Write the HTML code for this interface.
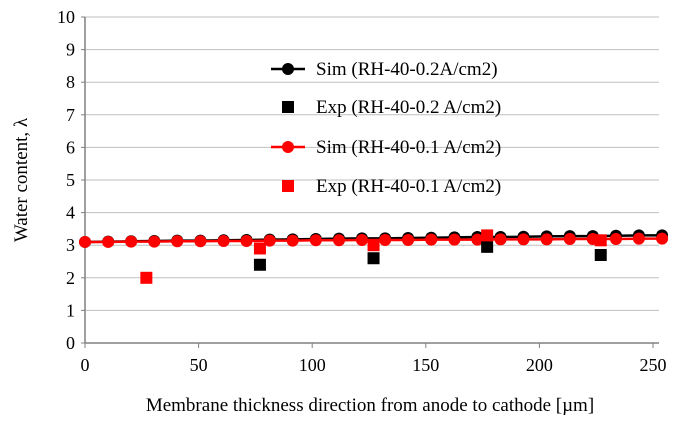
<!DOCTYPE html>
<html><head><meta charset="utf-8"><style>
body{margin:0;background:#fff;}
svg text{font-family:"Liberation Serif",serif;fill:#000;}
</style></head><body>
<svg id="chart" width="683" height="425" xmlns="http://www.w3.org/2000/svg"></svg>
<script>
const simX = [0,10.2,20.3,30.5,40.6,50.8,61,71.1,81.3,91.4,101.6,111.8,121.9,132.1,142.2,152.4,162.6,172.7,182.9,193,203.2,213.4,223.5,233.7,243.8,254];
const sim02 = [3.1,3.11,3.12,3.13,3.14,3.14,3.15,3.16,3.17,3.18,3.19,3.2,3.21,3.21,3.22,3.23,3.24,3.25,3.25,3.26,3.27,3.28,3.28,3.29,3.3,3.3];
const sim01 = [3.1,3.1,3.11,3.11,3.12,3.12,3.13,3.13,3.14,3.14,3.15,3.15,3.16,3.16,3.16,3.17,3.17,3.17,3.18,3.18,3.18,3.19,3.19,3.19,3.2,3.2];
const exp02X = [77,127,177,227];
const exp02 = [2.4,2.6,2.95,2.7];
const exp01X = [27,77,127,177,227];
const exp01 = [2.0,2.9,3.0,3.3,3.15];
const xTicks = [0,50,100,150,200,250];
const yTicks = [0,1,2,3,4,5,6,7,8,9,10];

const svg = document.getElementById('chart');
const NS = 'http://www.w3.org/2000/svg';
const X0=85, XS=2.272, Y0=343, YS=32.6, XMAX=659;
const sx = v => X0 + v*XS;
const sy = v => Y0 - v*YS;
function el(tag, attrs, parent){const e=document.createElementNS(NS,tag);for(const k in attrs)e.setAttribute(k,attrs[k]);(parent||svg).appendChild(e);return e;}

yTicks.forEach(t=>{
  if(t>0){const g=el('line',{x1:X0,x2:XMAX,y1:sy(t),y2:sy(t),stroke:'#bfbfbf','stroke-width':1});
  
  }
  const tk=el('line',{x1:X0-4,x2:X0,y1:sy(t),y2:sy(t),stroke:'#808080'});
  
  
  const tx=el('text',{x:X0-10,y:sy(t)+6,'text-anchor':'end','font-size':18});
  tx.textContent=t;
  
  
});
xTicks.forEach(t=>{
  const tk=el('line',{x1:sx(t),x2:sx(t),y1:Y0,y2:Y0+5,stroke:'#808080'});
  
  
  const tx=el('text',{x:sx(t),y:Y0+28,'text-anchor':'middle','font-size':18});
  tx.textContent=t;
  
  
});
const ya=el('line',{x1:X0,x2:X0,y1:sy(10),y2:Y0,stroke:'#808080','stroke-width':1.5});


const xa=el('line',{x1:X0,x2:XMAX,y1:Y0,y2:Y0,stroke:'#808080','stroke-width':1.5});



function series(xs, ys, color, name){
  const p=el('polyline',{points:xs.map((x,i)=>sx(x)+','+sy(ys[i])).join(' '),fill:'none',stroke:color,'stroke-width':2.5});
  
  
  xs.forEach((x,i)=>{
    const c=el('circle',{cx:sx(x),cy:sy(ys[i]),r:6,fill:color});
    
    
  });
}
function squares(xs, ys, color, name){
  xs.forEach((x,i)=>{
    const r=el('rect',{x:sx(x)-6,y:sy(ys[i])-6,width:12,height:12,fill:color});
    
    
  });
}
series(simX, sim02, '#000', 'sim-0.2');
series(simX, sim01, '#ff0000', 'sim-0.1');
squares(exp02X, exp02, '#000', 'exp-0.2');
squares(exp01X, exp01, '#ff0000', 'exp-0.1');

const leg=[['Sim (RH-40-0.2A/cm2)','#000','line',69],['Exp (RH-40-0.2 A/cm2)','#000','sq',107],['Sim (RH-40-0.1 A/cm2)','#ff0000','line',147],['Exp (RH-40-0.1 A/cm2)','#ff0000','sq',186]];
leg.forEach(l=>{
  const g=el('g',{});
  
  
  if(l[2]==='line'){el('line',{x1:271,x2:305,y1:l[3],y2:l[3],stroke:l[1],'stroke-width':2.5},g);el('circle',{cx:288,cy:l[3],r:6,fill:l[1]},g);}
  else el('rect',{x:282,y:l[3]-6,width:12,height:12,fill:l[1]},g);
  const t=el('text',{x:316,y:l[3]+6,'font-size':19},g);t.textContent=l[0];
});

const xt=el('text',{x:370,y:411,'text-anchor':'middle','font-size':19});
xt.textContent='Membrane thickness direction from anode to cathode [µm]';


const yt=el('text',{x:0,y:0,'text-anchor':'middle','font-size':19,transform:'translate(27,180) rotate(-90)'});
yt.textContent='Water content, λ';


</script>
</body></html>
